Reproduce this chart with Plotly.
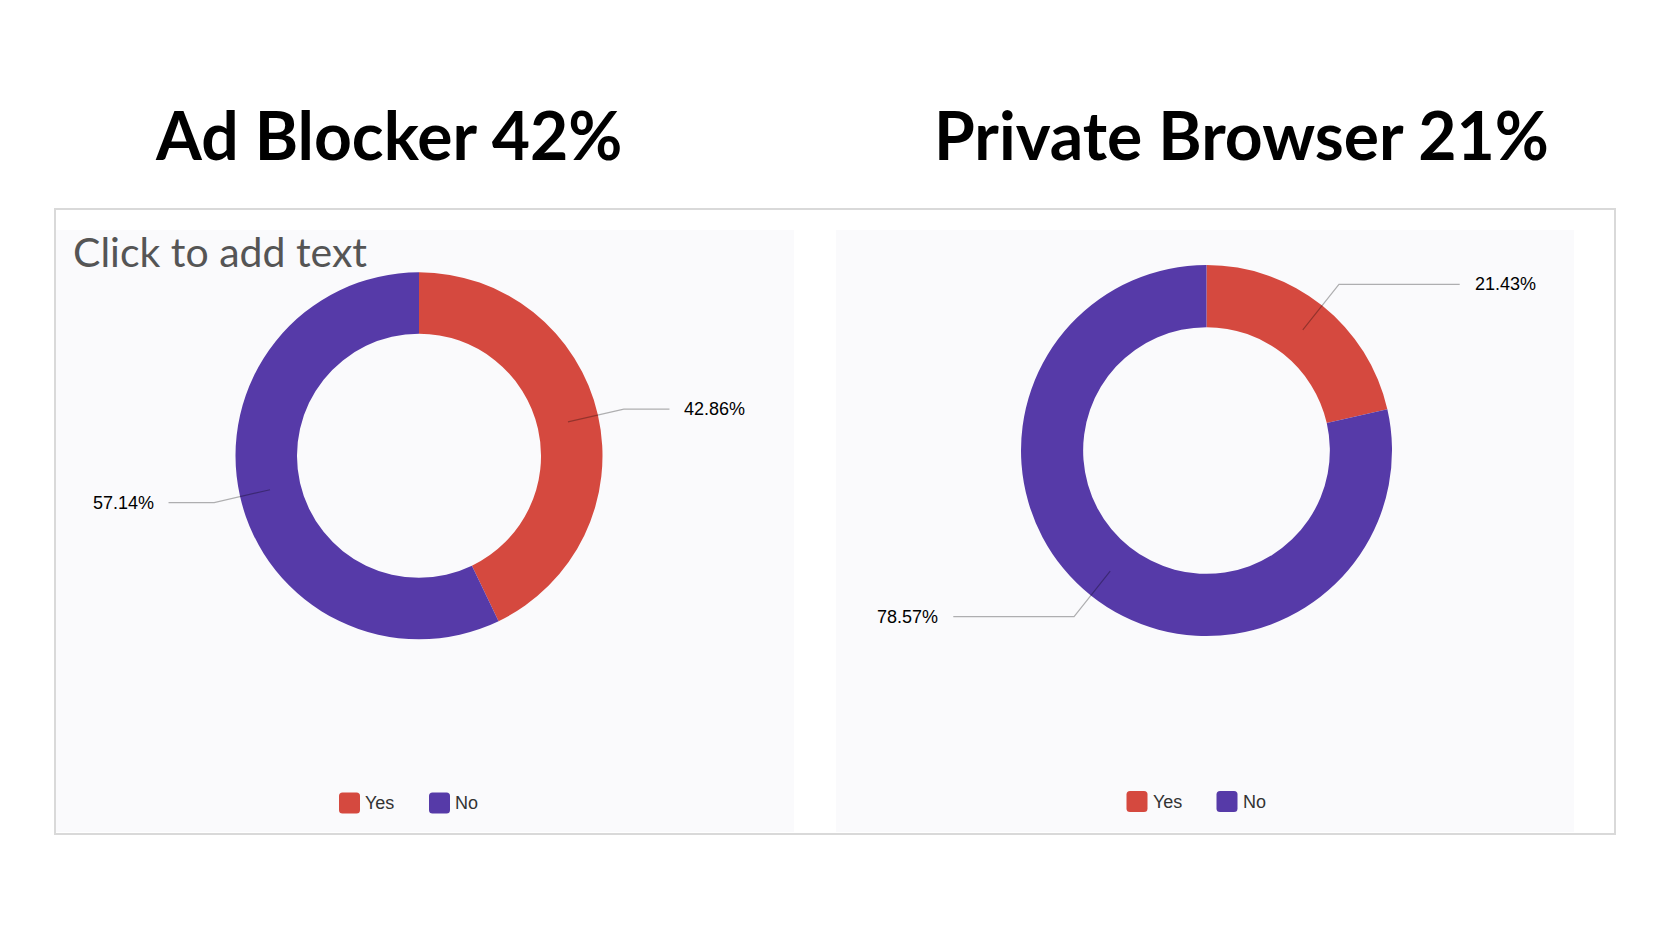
import math
import plotly.graph_objects as go

W, H = 1670, 937

# ---------------- data ----------------
labels = ["Yes", "No"]
adblock_values = [42.86, 57.14]
private_values = [21.43, 78.57]
titles = ["Ad Blocker 42%", "Private Browser 21%"]
colors = ["#d5493f", "#563aa8"]
placeholder_text = "Click to add text"

# ---------------- layout helpers (pixels) ----------------
panels = [
    dict(x0=56, x1=794, cx=419, cy=455.8, R=183.5, title_x=388, legend_y=803),
    dict(x0=836, x1=1574, cx=1206.5, cy=450.5, R=185.5, title_x=1241, legend_y=801.5),
]
HOLE = 0.665
series = [adblock_values, private_values]

fig = go.Figure()
# invisible trace to create a pixel coordinate system
fig.add_trace(go.Scatter(x=[], y=[], showlegend=False, hoverinfo="skip"))

shapes = []
annotations = []

# outer border
shapes.append(dict(type="rect", xref="x", yref="y", x0=55, x1=1615, y0=209, y1=834,
                   line=dict(color="#d9d9d9", width=2), fillcolor="white", layer="below"))

for p, vals, title in zip(panels, series, titles):
    # panel background
    shapes.append(dict(type="rect", xref="x", yref="y", x0=p["x0"], x1=p["x1"], y0=230, y1=832,
                       line=dict(width=0), fillcolor="#fafafc", layer="below"))
    cx, cy, R = p["cx"], p["cy"], p["R"]
    fig.add_trace(go.Pie(
        labels=labels, values=vals, hole=HOLE, sort=False, direction="clockwise",
        rotation=0, marker=dict(colors=colors, line=dict(width=0)),
        textinfo="none", showlegend=False, hoverinfo="label+percent",
        domain=dict(x=[(cx - R) / W, (cx + R) / W], y=[1 - (cy + R) / H, 1 - (cy - R) / H]),
    ))
    # leader lines + labels computed from the data
    total = sum(vals)
    cum = 0.0
    r_mid = R * (1 + HOLE) / 2
    for v in vals:
        theta = 2 * math.pi * (cum + v / 2) / total
        cum += v
        sx, sy = math.sin(theta), -math.cos(theta)
        x_a, y_a = cx + r_mid * sx, cy + r_mid * sy
        x_e, y_e = cx + 1.145 * R * sx, cy + 1.145 * R * sy
        side = 1 if sx >= 0 else -1
        x_h = cx + side * 1.365 * R
        shapes.append(dict(type="path", xref="x", yref="y",
                           path=f"M{x_a},{y_a} L{x_e},{y_e} L{x_h},{y_e}",
                           line=dict(color="rgba(0,0,0,0.3)", width=1.2), layer="above"))
        annotations.append(dict(xref="x", yref="y", x=x_h + side * 13, y=y_e,
                                text=f"{100 * v / total:.2f}%", showarrow=False,
                                xanchor="left" if side > 0 else "right", yanchor="middle",
                                font=dict(family="Liberation Sans, Arial", size=18, color="#000000")))
    # title
    annotations.append(dict(xref="x", yref="y", x=p["title_x"], y=134, text=title, showarrow=False,
                            xanchor="center", yanchor="middle",
                            font=dict(family="Lato", size=66, color="#000000", weight=700)))
    # custom legend
    lx = cx - 80
    ly = p["legend_y"]
    s = 21
    rr = 3.5
    for lab, col in zip(labels, colors):
        x0, x1, y0, y1 = lx, lx + s, ly - s / 2, ly + s / 2
        path = (f"M{x0+rr},{y0} L{x1-rr},{y0} Q{x1},{y0} {x1},{y0+rr} L{x1},{y1-rr} "
                f"Q{x1},{y1} {x1-rr},{y1} L{x0+rr},{y1} Q{x0},{y1} {x0},{y1-rr} "
                f"L{x0},{y0+rr} Q{x0},{y0} {x0+rr},{y0} Z")
        shapes.append(dict(type="path", xref="x", yref="y", path=path,
                           fillcolor=col, line=dict(width=0), layer="above"))
        annotations.append(dict(xref="x", yref="y", x=x1 + 3, y=ly, text=lab, showarrow=False,
                                xanchor="left", yanchor="middle",
                                font=dict(family="Liberation Sans, Arial", size=18, color="#333333")))
        lx += 90

# placeholder text
annotations.append(dict(xref="x", yref="y", x=71, y=251, text=placeholder_text, showarrow=False,
                        xanchor="left", yanchor="middle",
                        font=dict(family="Lato", size=41, color="#555555")))

fig.update_layout(
    width=W, height=H, margin=dict(l=0, r=0, t=0, b=0),
    paper_bgcolor="white", plot_bgcolor="rgba(0,0,0,0)",
    xaxis=dict(range=[0, W], visible=False, fixedrange=True, domain=[0, 1]),
    yaxis=dict(range=[H, 0], visible=False, fixedrange=True, domain=[0, 1]),
    shapes=shapes, annotations=annotations, showlegend=False,
)

fig.write_html("out.html")
